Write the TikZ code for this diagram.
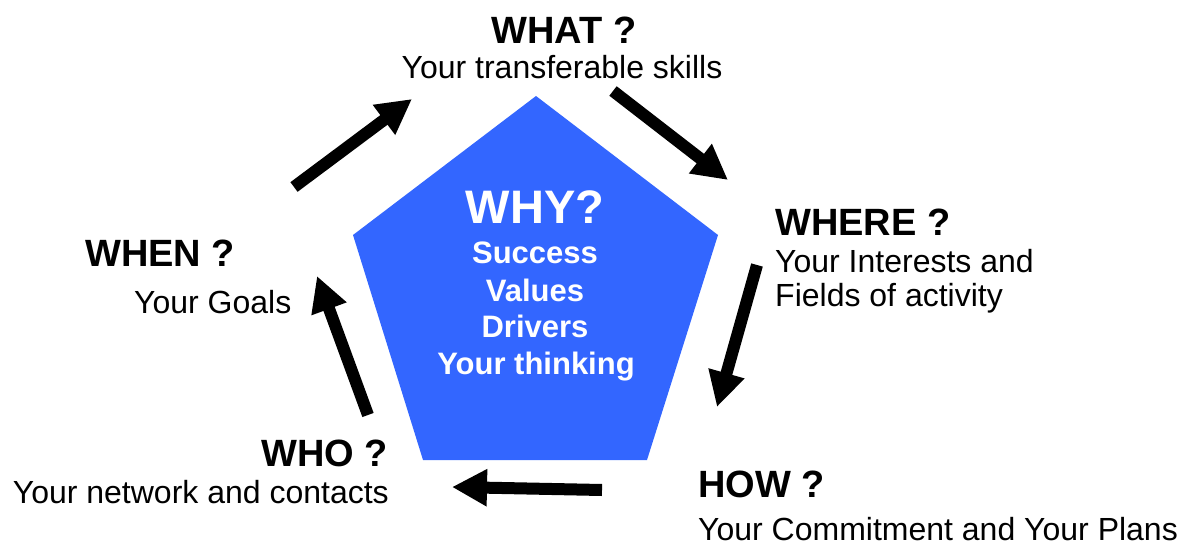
\documentclass[tikz,border=0pt]{standalone}
\usepackage{fontspec}
\setmainfont{Liberation Sans}
\usetikzlibrary{arrows.meta}
\definecolor{pentablue}{HTML}{3366FF}
\begin{document}
\begin{tikzpicture}[x=1pt, y=-1pt,
  label/.style={inner sep=0pt, font=\fontsize{32}{36}\selectfont},
  title/.style={inner sep=0pt, font=\fontsize{38}{42}\selectfont\bfseries},
  inner/.style={inner sep=0pt, text=white, font=\fontsize{31}{34}\selectfont\bfseries, anchor=base},
  cyclearrow/.style={line width=12pt, -{Triangle[length=35pt, width=35pt]}}]
\useasboundingbox (0,0) rectangle (1189,546);

% central pentagon
\coordinate (ptop) at (536,96);
\coordinate (pright) at (718,235);
\coordinate (pbr) at (647,460);
\coordinate (pbl) at (423,460);
\coordinate (pleft) at (353,235);
\fill[pentablue] (ptop) -- (pright) -- (pbr) -- (pbl) -- (pleft) -- cycle;

\node[inner, font=\fontsize{47}{50}\selectfont\bfseries] (why) at (535,223) {WHY?};
\node[inner] (success) at (535,263) {Success};
\node[inner] (values) at (535,301) {Values};
\node[inner] (drivers) at (535,337) {Drivers};
\node[inner] (thinking) at (536,374) {Your thinking};

% the five questions
\node[title, anchor=base] (what) at (564,43) {WHAT ?};
\node[label, anchor=base] (whatsub) at (562,78) {Your transferable skills};

\node[title, anchor=base west] (where) at (775,235) {WHERE ?};
\node[label, anchor=base west] (wheresub1) at (775,272) {Your Interests and};
\node[label, anchor=base west] (wheresub2) at (775,306) {Fields of activity};

\node[title, anchor=base west] (how) at (698,497) {HOW ?};
\node[label, anchor=base west] (howsub) at (698,540) {Your Commitment and Your Plans};

\node[title, anchor=base east] (who) at (388,466) {WHO ?};
\node[label, anchor=base east] (whosub) at (389,503) {Your network and contacts};

\node[title, anchor=base west] (when) at (85,266) {WHEN ?};
\node[label, anchor=base west] (whensub) at (134,313) {Your Goals};

% arrows running round the cycle
\coordinate (a1s) at (294,187); \coordinate (a1e) at (412,99);
\coordinate (a2s) at (613,91);  \coordinate (a2e) at (728,180);
\coordinate (a3s) at (757,265); \coordinate (a3e) at (717,407);
\coordinate (a4s) at (602,490); \coordinate (a4e) at (452,487);
\coordinate (a5s) at (368,415); \coordinate (a5e) at (317,276);
\draw[cyclearrow] (a1s) -- (a1e);
\draw[cyclearrow] (a2s) -- (a2e);
\draw[cyclearrow] (a3s) -- (a3e);
\draw[cyclearrow] (a4s) -- (a4e);
\draw[cyclearrow] (a5s) -- (a5e);
\end{tikzpicture}
\end{document}
